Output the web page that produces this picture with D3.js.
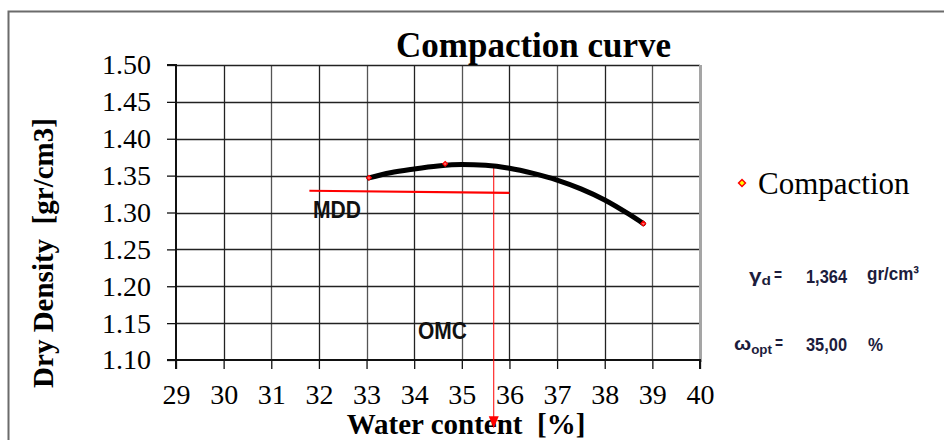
<!DOCTYPE html>
<html>
<head>
<meta charset="utf-8">
<script src="https://cdnjs.cloudflare.com/ajax/libs/d3/7.8.5/d3.min.js"></script>
<style>
body { margin: 0; background: #fff; }
svg { display: block; }
.serif { font-family: "Liberation Serif", "Times New Roman", serif; }
.narrow { font-family: "Liberation Sans", Arial, sans-serif; font-weight: bold; }
</style>
</head>
<body>
<script>
// measured points
var waterContent = [33.05, 34.65, 38.81],
    dryDensity = [1.347, 1.366, 1.285];

// fitted curve
var fitWater = [33.05, 33.5, 34, 34.5, 35, 35.5, 36, 36.5, 37, 37.5, 38, 38.5, 38.81],
    fitDensity = [1.347, 1.354, 1.359, 1.363, 1.365, 1.364, 1.360, 1.353, 1.344, 1.332, 1.317, 1.298, 1.285];

// MDD reference line and OMC drop line
var mddWater = [31.8, 36.0],
    mddDensity = [1.3295, 1.3265],
    omcWater = 35.67,
    omcDensity = [1.365, 1.0075];

var xTicks = [29, 30, 31, 32, 33, 34, 35, 36, 37, 38, 39, 40],
    yTicks = [1.10, 1.15, 1.20, 1.25, 1.30, 1.35, 1.40, 1.45, 1.50];

var gammaD = "1,364",
    omegaOpt = "35,00";

var W = 944, H = 440;

var svg = d3.select("body")
    .append("svg")
    .attr("width", W)
    .attr("height", H);

svg.append("rect").attr("width", W).attr("height", H).attr("fill", "#fff");

// outer chart frame
svg.append("path")
    .attr("d", "M8.5," + H + " L8.5,11.5 L" + W + ",11.5")
    .attr("fill", "none")
    .attr("stroke", "#6b6b6b")
    .attr("stroke-width", 2);

var x = d3.scaleLinear().domain([29, 40]).range([176, 700]),
    y = d3.scaleLinear().domain([1.10, 1.50]).range([360, 65]);

// grid
var grid = svg.append("g").attr("class", "grid");
grid.selectAll(".vg")
    .data(xTicks.slice(1, -1))
    .enter().append("line")
    .attr("x1", function(d) { return Math.round(x(d)) + 0.5; })
    .attr("x2", function(d) { return Math.round(x(d)) + 0.5; })
    .attr("y1", y(1.50)).attr("y2", y(1.10))
    .attr("stroke", function(d, i) { return i % 2 ? "#555" : "#222"; })
    .attr("stroke-width", 1.3);
grid.selectAll(".hg")
    .data(yTicks.slice(1))
    .enter().append("line")
    .attr("x1", x(29)).attr("x2", x(40))
    .attr("y1", function(d) { return Math.round(y(d)) + 0.5; })
    .attr("y2", function(d) { return Math.round(y(d)) + 0.5; })
    .attr("stroke", "#222")
    .attr("stroke-width", 1.3);

// right border of plot
svg.append("line")
    .attr("x1", x(40) + 0.5).attr("x2", x(40) + 0.5)
    .attr("y1", y(1.50)).attr("y2", y(1.10) + 2)
    .attr("stroke", "#a5a5a5")
    .attr("stroke-width", 3);

// axes
var yAxis = svg.append("g")
    .attr("transform", "translate(" + x(29) + ",0)")
    .call(d3.axisLeft(y).tickValues(yTicks).tickFormat(d3.format(".2f")).tickSize(9).tickPadding(16));
var xAxis = svg.append("g")
    .attr("transform", "translate(0," + y(1.10) + ")")
    .call(d3.axisBottom(x).tickValues(xTicks).tickFormat(d3.format("d")).tickSize(9).tickPadding(15));

[yAxis, xAxis].forEach(function(a) {
    a.select(".domain").attr("stroke", "#111").attr("stroke-width", 2);
    a.selectAll(".tick line").attr("stroke", "#111").attr("stroke-width", 1.3);
    a.selectAll(".tick text")
        .attr("class", "serif")
        .attr("font-size", 28)
        .attr("fill", "#000");
});
yAxis.select(".domain").attr("d", "M-9," + y(1.10) + "H0V" + y(1.50) + "H-9");
xAxis.select(".domain").attr("d", "M" + x(29) + ",9V0H" + x(40) + "V9");

// titles
svg.append("text")
    .attr("class", "serif")
    .attr("x", 396).attr("y", 57)
    .attr("font-size", 35).attr("font-weight", "bold")
    .text("Compaction curve");

svg.append("text")
    .attr("class", "serif")
    .attr("x", 466).attr("y", 434)
    .attr("text-anchor", "middle")
    .attr("font-size", 29).attr("font-weight", "bold")
    .style("white-space", "pre")
    .text("Water content  [%]");

svg.append("text")
    .attr("class", "serif")
    .attr("transform", "translate(53,253) rotate(-90)")
    .attr("text-anchor", "middle")
    .attr("font-size", 29).attr("font-weight", "bold")
    .style("white-space", "pre")
    .text("Dry Density  [gr/cm3]");

// MDD line
var line = d3.line()
    .x(function(d) { return x(d[0]); })
    .y(function(d) { return y(d[1]); });

svg.append("path")
    .datum(d3.zip(mddWater, mddDensity))
    .attr("d", line)
    .attr("fill", "none")
    .attr("stroke", "#ff0000")
    .attr("stroke-width", 2.2);

// OMC drop line with arrow
var omcY0 = y(omcDensity[0]), omcY1 = y(omcDensity[1]), omcX = x(omcWater);
svg.append("line")
    .attr("x1", omcX).attr("x2", omcX)
    .attr("y1", omcY0).attr("y2", omcY1 - 8)
    .attr("stroke", "#ff0000")
    .attr("stroke-width", 1);
svg.append("path")
    .attr("d", "M" + (omcX - 5) + "," + (omcY1 - 12) + "L" + (omcX + 5) + "," + (omcY1 - 12) + "L" + omcX + "," + omcY1 + "Z")
    .attr("fill", "#ff0000");

// fitted curve
svg.append("path")
    .datum(d3.zip(fitWater, fitDensity))
    .attr("d", line.curve(d3.curveMonotoneX))
    .attr("fill", "none")
    .attr("stroke", "#000")
    .attr("stroke-width", 5)
    .attr("stroke-linecap", "round");

// points
var diamond = d3.symbol().type(d3.symbolDiamond2).size(14);
svg.append("g")
    .selectAll("path")
    .data(d3.zip(waterContent, dryDensity))
    .enter().append("path")
    .attr("d", diamond)
    .attr("transform", function(d) { return "translate(" + x(d[0]) + "," + y(d[1]) + ")"; })
    .attr("fill", "#ff6a6a")
    .attr("stroke", "#ff0000")
    .attr("stroke-width", 1.2);

// condensed bold labels
function label(px, py, str, size, len, color, weight) {
    return svg.append("text")
        .attr("class", "narrow")
        .attr("x", px).attr("y", py)
        .attr("font-size", size)
        .attr("font-weight", weight || "bold")
        .attr("fill", color)
        .attr("textLength", len)
        .attr("lengthAdjust", "spacingAndGlyphs")
        .text(str);
}

// main text plus a smaller lowered part, in one text element
function labelWithIndex(px, py, str, idx, size, idxSize, shift, len, color, weight) {
    var t = label(px, py, "", size, len, color, weight);
    t.append("tspan").text(str);
    t.append("tspan").attr("font-size", idxSize).attr("dy", shift).text(idx);
    return t;
}

label(313, 218, "MDD", 24, 48, "#111");
label(418, 339, "OMC", 24, 49, "#111");

// legend
svg.append("path")
    .attr("d", d3.symbol().type(d3.symbolDiamond2).size(30))
    .attr("transform", "translate(742,183)")
    .attr("fill", "#ffff00")
    .attr("stroke", "#ff0000")
    .attr("stroke-width", 1.5);
svg.append("text")
    .attr("class", "serif")
    .attr("x", 758).attr("y", 194)
    .attr("font-size", 31)
    .text("Compaction");

// results box
var ink = "#1c1c3c";
labelWithIndex(749, 282, "γ", "d", 19, 13, 3, 22, ink);
label(774, 281, "=", 18, 8, ink);
label(806, 283, gammaD, 18.5, 41, ink);
label(867, 280, "gr/cm³", 18.5, 52, ink, "normal");

labelWithIndex(734, 350, "ω", "opt", 19, 12.5, 4, 38, ink);
label(775, 349, "=", 18, 8, ink);
label(806, 351, omegaOpt, 18.5, 41, ink);
label(868, 351, "%", 18.5, 15, ink);
</script>
</body>
</html>
